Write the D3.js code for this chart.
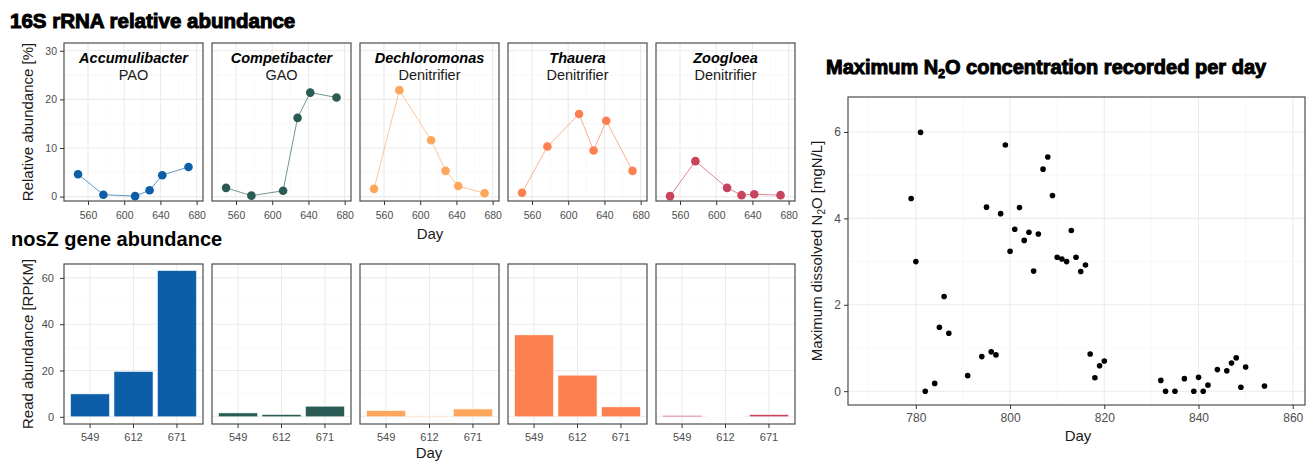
<!DOCTYPE html>
<html>
<head>
<meta charset="utf-8">
<script src="https://cdn.jsdelivr.net/npm/d3@7"></script>
<style>
  body { margin: 0; background: #fff; }
  svg { font-family: "Liberation Sans", Arial, sans-serif; }
</style>
</head>
<body>
<svg id="chart" width="1307" height="462"></svg>
<script>
// ---- data ----
const genera = ['Accumulibacter', 'Competibacter', 'Dechloromonas', 'Thauera', 'Zoogloea'];
const roles = ['PAO', 'GAO', 'Denitrifier', 'Denitrifier', 'Denitrifier'];
const generaColors = ['#0c5ea8', '#2a5c55', '#fea65c', '#fd8150', '#c9435e'];

// 16S rRNA relative abundance [%]
const rrnaDays = [549, 577, 612, 628, 642, 671];
const accumulibacterRrna = [4.6, 0.4, 0.1, 1.3, 4.4, 6.1];
const competibacterRrna = [1.8, 0.2, 1.2, 16.2, 21.4, 20.4];
const dechloromonasRrna = [1.6, 21.9, 11.6, 5.3, 2.2, 0.7];
const thaueraRrna = [0.8, 10.3, 17.0, 9.5, 15.6, 5.3];
const zoogloeaRrna = [0.1, 7.3, 1.8, 0.3, 0.5, 0.3];
const rrnaSeries = [accumulibacterRrna, competibacterRrna, dechloromonasRrna, thaueraRrna, zoogloeaRrna];

// nosZ read abundance [RPKM]
const nosZDays = ['549', '612', '671'];
const accumulibacterNosZ = [9.9, 19.6, 63.2];
const competibacterNosZ = [1.7, 1.0, 4.6];
const dechloromonasNosZ = [2.7, 0.4, 3.4];
const thaueraNosZ = [35.4, 18.0, 4.3];
const zoogloeaNosZ = [0.6, 0.1, 1.0];
const nosZSeries = [accumulibacterNosZ, competibacterNosZ, dechloromonasNosZ, thaueraNosZ, zoogloeaNosZ];

// maximum dissolved N2O per day [mgN/L]
const n2oDays = [779, 780, 781, 782, 784, 785, 786, 787, 791, 794, 795, 796, 797, 798, 799,
  800, 801, 802, 803, 804, 805, 806, 807, 808, 809, 810, 811, 812, 813, 814, 815, 816,
  817, 818, 819, 820, 832, 833, 835, 837, 839, 840, 841, 842, 844, 846, 847, 848, 849, 850, 854];
const n2oMax = [4.46, 3.0, 5.99, 0.0, 0.18, 1.48, 2.19, 1.34, 0.36, 0.80, 4.26, 0.91, 0.84, 4.11, 5.70,
  3.24, 3.75, 4.25, 3.49, 3.68, 2.78, 3.64, 5.14, 5.42, 4.53, 3.10, 3.06, 3.0, 3.72, 3.10, 2.77, 2.92,
  0.86, 0.31, 0.59, 0.70, 0.25, 0.0, 0.0, 0.29, 0.0, 0.32, 0.0, 0.14, 0.50, 0.47, 0.65, 0.77, 0.09, 0.56, 0.12];

// ticks
const rrnaXTicks = [560, 600, 640, 680];
const rrnaXMinor = [540, 580, 620, 660];
const rrnaYTicks = [0, 10, 20, 30];
const rrnaYMinor = [5, 15, 25];
const nosZYTicks = [0, 20, 40, 60];
const nosZYMinor = [10, 30, 50];
const n2oXTicks = [780, 800, 820, 840, 860];
const n2oXMinor = [770, 790, 810, 830, 850];
const n2oYTicks = [0, 2, 4, 6];
const n2oYMinor = [1, 3, 5];

// ---- layout ----
const svg = d3.select('#chart');
const panelLeft = 64, panelStep = 148, panelW = 139;
const topY = [43, 201];
const botY = [264, 424];
const right = { x0: 848, x1: 1305, y0: 97, y1: 405 };

const gridMajor = '#ebebeb', gridMinor = '#f5f5f5', borderCol = '#4d4d4d', tickText = '#4d4d4d';

const xTop = d3.scaleLinear().domain([533.5, 687]).range([0, panelW]);
const yTop = d3.scaleLinear().domain([-0.9, 31.6]).range([topY[1], topY[0]]);
const xBar = d3.scaleBand().domain(nosZDays).range([0, panelW]).paddingInner(0.1).paddingOuter(0.15);
const yBar = d3.scaleLinear().domain([-3.1, 66]).range([botY[1], botY[0]]);
const xN2o = d3.scaleLinear().domain([765.6, 862.6]).range([right.x0, right.x1]);
const yN2o = d3.scaleLinear().domain([-0.32, 6.81]).range([right.y1, right.y0]);

function styleAxis(sel, fontSize) {
  sel.select('.domain').remove();
  sel.selectAll('.tick line').attr('stroke', '#333').attr('stroke-width', 1);
  sel.selectAll('.tick text').attr('fill', tickText).attr('font-size', fontSize)
    .attr('font-family', '"Liberation Sans", Arial, sans-serif');
}

function vLines(g, vals, x, y0, y1, col, w) {
  g.selectAll(null).data(vals).enter().append('line')
    .attr('x1', d => x(d)).attr('x2', d => x(d)).attr('y1', y0).attr('y2', y1)
    .attr('stroke', col).attr('stroke-width', w);
}
function hLines(g, vals, y, x0, x1, col, w) {
  g.selectAll(null).data(vals).enter().append('line')
    .attr('y1', d => y(d)).attr('y2', d => y(d)).attr('x1', x0).attr('x2', x1)
    .attr('stroke', col).attr('stroke-width', w);
}

// ---- titles ----
svg.append('text').attr('x', 10).attr('y', 28)
  .attr('font-size', 20.5).attr('font-weight', 'bold')
  .attr('stroke', '#000').attr('stroke-width', 1)
  .text('16S rRNA relative abundance');

svg.append('text').attr('x', 11).attr('y', 246)
  .attr('font-size', 20).attr('font-weight', 'bold')
  .text('nosZ gene abundance');

// ---- 16S panels ----
genera.forEach((name, i) => {
  const g = svg.append('g').attr('transform', `translate(${panelLeft + i * panelStep},0)`);
  const col = generaColors[i];

  g.append('rect').attr('x', 0).attr('y', topY[0]).attr('width', panelW)
    .attr('height', topY[1] - topY[0]).attr('fill', '#fff');
  vLines(g, rrnaXMinor, xTop, topY[0], topY[1], gridMinor, 0.6);
  hLines(g, rrnaYMinor, yTop, 0, panelW, gridMinor, 0.6);
  vLines(g, rrnaXTicks, xTop, topY[0], topY[1], gridMajor, 1.1);
  hLines(g, rrnaYTicks, yTop, 0, panelW, gridMajor, 1.1);

  g.append('path')
    .datum(rrnaSeries[i])
    .attr('fill', 'none').attr('stroke', col).attr('stroke-width', 1)
    .attr('opacity', 0.65)
    .attr('d', d3.line().x((d, j) => xTop(rrnaDays[j])).y(d => yTop(d)));

  g.selectAll('circle').data(rrnaSeries[i]).enter().append('circle')
    .attr('cx', (d, j) => xTop(rrnaDays[j])).attr('cy', d => yTop(d))
    .attr('r', 4.3).attr('fill', col);

  g.append('rect').attr('x', 0).attr('y', topY[0]).attr('width', panelW)
    .attr('height', topY[1] - topY[0]).attr('fill', 'none')
    .attr('stroke', borderCol).attr('stroke-width', 1.2);

  g.append('text').attr('x', panelW / 2).attr('y', 63).attr('text-anchor', 'middle')
    .attr('font-size', 14.5).attr('font-weight', 'bold').attr('font-style', 'italic')
    .text(name);
  g.append('text').attr('x', panelW / 2).attr('y', 80).attr('text-anchor', 'middle')
    .attr('font-size', 14.5).attr('fill', '#1a1a1a')
    .text(roles[i]);

  const xa = g.append('g').attr('transform', `translate(0,${topY[1]})`)
    .call(d3.axisBottom(xTop).tickValues(rrnaXTicks).tickSize(4).tickPadding(7));
  styleAxis(xa, 10.5);

  if (i === 0) {
    const ya = g.append('g')
      .call(d3.axisLeft(yTop).tickValues(rrnaYTicks).tickSize(4).tickPadding(3));
    styleAxis(ya, 10.5);
  }
});

svg.append('text').attr('x', 33).attr('y', 122).attr('text-anchor', 'middle')
  .attr('transform', 'rotate(-90,33,122)').attr('font-size', 15).attr('fill', '#1a1a1a')
  .text('Relative abundance [%]');
svg.append('text').attr('x', 430).attr('y', 239).attr('text-anchor', 'middle')
  .attr('font-size', 15).attr('fill', '#1a1a1a').text('Day');

// ---- nosZ panels ----
genera.forEach((name, i) => {
  const g = svg.append('g').attr('transform', `translate(${panelLeft + i * panelStep},0)`);
  const col = generaColors[i];

  vLines(g, nosZDays, d => xBar(d) + xBar.bandwidth() / 2, botY[0], botY[1], gridMajor, 1.1);
  hLines(g, nosZYMinor, yBar, 0, panelW, gridMinor, 0.6);
  hLines(g, nosZYTicks, yBar, 0, panelW, gridMajor, 1.1);

  g.selectAll('rect.bar').data(nosZSeries[i]).enter().append('rect')
    .attr('class', 'bar')
    .attr('x', (d, j) => xBar(nosZDays[j]))
    .attr('width', xBar.bandwidth())
    .attr('y', d => yBar(d))
    .attr('height', d => yBar(0) - yBar(d))
    .attr('fill', col).attr('stroke', '#fff').attr('stroke-width', 0.6);

  g.append('rect').attr('x', 0).attr('y', botY[0]).attr('width', panelW)
    .attr('height', botY[1] - botY[0]).attr('fill', 'none')
    .attr('stroke', borderCol).attr('stroke-width', 1.2);

  const xa = g.append('g').attr('transform', `translate(0,${botY[1]})`)
    .call(d3.axisBottom(xBar).tickSize(4).tickPadding(5));
  styleAxis(xa, 11);

  if (i === 0) {
    const ya = g.append('g')
      .call(d3.axisLeft(yBar).tickValues(nosZYTicks).tickSize(4).tickPadding(6));
    styleAxis(ya, 11);
  }
});

svg.append('text').attr('x', 33).attr('y', 344).attr('text-anchor', 'middle')
  .attr('transform', 'rotate(-90,33,344)').attr('font-size', 15).attr('fill', '#1a1a1a')
  .text('Read abundance [RPKM]');
svg.append('text').attr('x', 429).attr('y', 458).attr('text-anchor', 'middle')
  .attr('font-size', 15).attr('fill', '#1a1a1a').text('Day');

// ---- N2O scatter ----
const rt = svg.append('text').attr('x', 826).attr('y', 74)
  .attr('font-size', 20).attr('font-weight', 'bold')
  .attr('stroke', '#000').attr('stroke-width', 1);
rt.append('tspan').text('Maximum N');
rt.append('tspan').attr('font-size', 12).attr('dy', 4).text('2');
rt.append('tspan').attr('dy', -4).text('O concentration recorded per day');

const gr = svg.append('g');
vLines(gr, n2oXMinor, xN2o, right.y0, right.y1, gridMinor, 0.6);
hLines(gr, n2oYMinor, yN2o, right.x0, right.x1, gridMinor, 0.6);
vLines(gr, n2oXTicks, xN2o, right.y0, right.y1, gridMajor, 1.1);
hLines(gr, n2oYTicks, yN2o, right.x0, right.x1, gridMajor, 1.1);

gr.selectAll('circle').data(n2oMax).enter().append('circle')
  .attr('cx', (d, j) => xN2o(n2oDays[j])).attr('cy', d => yN2o(d))
  .attr('r', 2.8).attr('fill', '#000');

gr.append('rect').attr('x', right.x0).attr('y', right.y0)
  .attr('width', right.x1 - right.x0).attr('height', right.y1 - right.y0)
  .attr('fill', 'none').attr('stroke', borderCol).attr('stroke-width', 1.2);

const rx = gr.append('g').attr('transform', `translate(0,${right.y1})`)
  .call(d3.axisBottom(xN2o).tickValues(n2oXTicks).tickSize(4).tickPadding(4));
styleAxis(rx, 12);
const ry = gr.append('g').attr('transform', `translate(${right.x0},0)`)
  .call(d3.axisLeft(yN2o).tickValues(n2oYTicks).tickSize(4).tickPadding(3));
styleAxis(ry, 12);

const yl = svg.append('text').attr('x', 822).attr('y', 251).attr('text-anchor', 'middle')
  .attr('transform', 'rotate(-90,822,251)').attr('font-size', 15).attr('fill', '#1a1a1a');
yl.append('tspan').text('Maximum dissolved N');
yl.append('tspan').attr('font-size', 10).attr('dy', 3).text('2');
yl.append('tspan').attr('dy', -3).text('O [mgN/L]');

svg.append('text').attr('x', 1078).attr('y', 441).attr('text-anchor', 'middle')
  .attr('font-size', 15).attr('fill', '#1a1a1a').text('Day');
</script>
</body>
</html>
